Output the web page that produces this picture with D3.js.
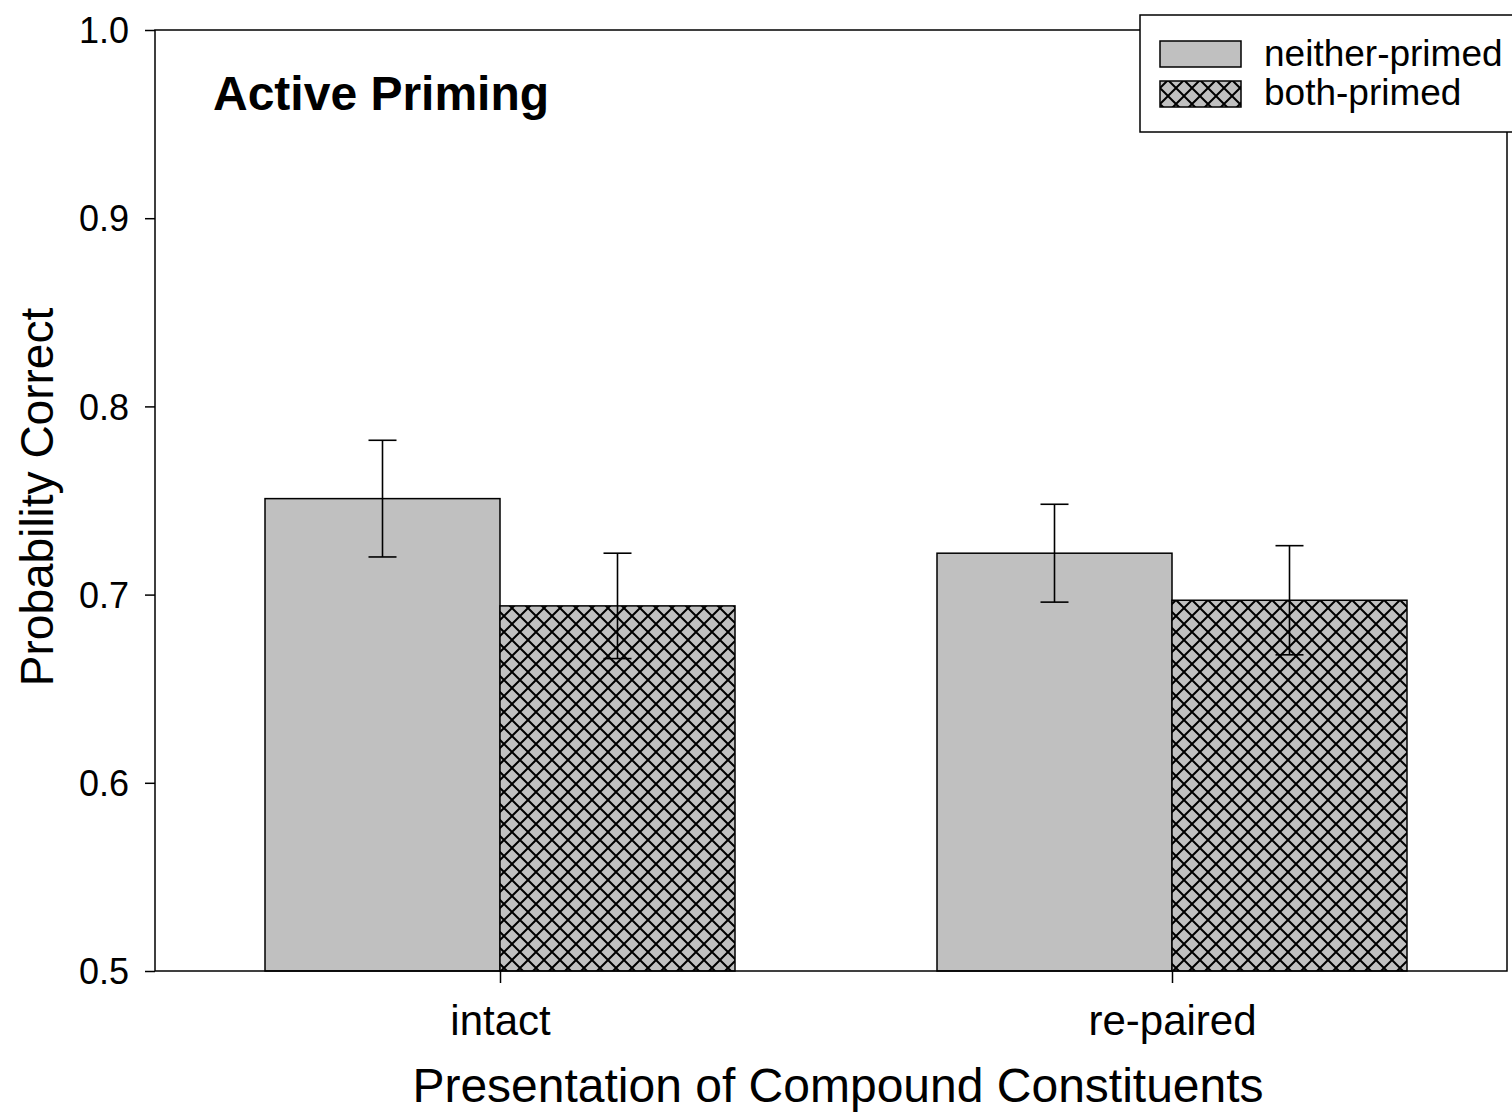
<!DOCTYPE html>
<html><head><meta charset="utf-8">
<script src="https://cdn.jsdelivr.net/npm/d3@7"></script>
<style>body{margin:0;background:#fff}svg{display:block}text{font-family:"Liberation Sans",Arial,sans-serif}</style>
</head><body>
<script>
const groups = ["intact", "re-paired"];
const seriesNames = ["neither-primed", "both-primed"];
const neitherValues = [0.751, 0.722];
const bothValues = [0.694, 0.697];
const neitherErr = [0.031, 0.026];
const bothErr = [0.028, 0.029];
const yTicks = [0.5, 0.6, 0.7, 0.8, 0.9, 1.0];

const W = 1512, H = 1117;
const L = 155, R = 1507, T = 30, B = 971;
const FONT = "Liberation Sans, Arial, sans-serif";
const svg = d3.select("body").append("svg").attr("width", W).attr("height", H);

const P = 16;
const defs = svg.append("defs");
const pat = defs.append("pattern").attr("id", "hatch").attr("patternUnits", "userSpaceOnUse")
  .attr("width", P).attr("height", P);
pat.append("rect").attr("width", P).attr("height", P).attr("fill", "#c0c0c0");
pat.append("path").attr("d", `M0,0L${P},${P}M${P},0L0,${P}M-2,${P-2}L2,${P+2}M${P-2},-2L${P+2},2M-2,2L2,-2M${P-2},${P+2}L${P+2},${P-2}`)
  .attr("stroke", "#000").attr("stroke-width", 2);

const y = d3.scaleLinear().domain([0.5, 1.0]).range([B, T]);
const x = d3.scalePoint().domain(groups).range([L + 345, R - 335]);
const sub = d3.scaleBand().domain(seriesNames).range([-235, 235]);

const data = [];
groups.forEach((g, i) => {
  data.push({g, s: seriesNames[0], v: neitherValues[i], e: neitherErr[i]});
  data.push({g, s: seriesNames[1], v: bothValues[i], e: bothErr[i]});
});

svg.selectAll("rect.bar").data(data).join("rect").attr("class", "bar")
  .attr("x", d => x(d.g) + sub(d.s)).attr("width", sub.bandwidth())
  .attr("y", d => y(d.v)).attr("height", d => y(0.5) - y(d.v))
  .attr("fill", d => d.s === seriesNames[0] ? "#c0c0c0" : "url(#hatch)")
  .attr("stroke", "#000").attr("stroke-width", 1.5);

const cx = d => x(d.g) + sub(d.s) + sub.bandwidth() / 2;
const eb = svg.selectAll("g.err").data(data).join("g").attr("class", "err")
  .attr("stroke", "#000").attr("stroke-width", 1.6);
eb.append("line").attr("x1", cx).attr("x2", cx)
  .attr("y1", d => y(d.v + d.e)).attr("y2", d => y(d.v - d.e));
[1, -1].forEach(sgn => {
  eb.append("line").attr("x1", d => cx(d) - 14).attr("x2", d => cx(d) + 14)
    .attr("y1", d => y(d.v + sgn * d.e)).attr("y2", d => y(d.v + sgn * d.e));
});

svg.append("rect").attr("x", L).attr("y", T).attr("width", R - L).attr("height", B - T)
  .attr("fill", "none").attr("stroke", "#000").attr("stroke-width", 1.5);

const yAxis = svg.append("g").attr("transform", `translate(${L},0)`)
  .call(d3.axisLeft(y).tickValues(yTicks).tickFormat(d3.format(".1f")).tickSize(10).tickPadding(16));
yAxis.select(".domain").remove();
yAxis.selectAll("line").attr("stroke-width", 1.5);
yAxis.selectAll("text").attr("font-size", 36).attr("fill", "#000").attr("font-family", FONT).attr("dy", "0.35em");

const xAxis = svg.append("g").attr("transform", `translate(0,${B})`)
  .call(d3.axisBottom(x).tickSize(12).tickPadding(22));
xAxis.select(".domain").remove();
xAxis.selectAll("line").attr("stroke-width", 1.5);
xAxis.selectAll("text").attr("font-size", 42).attr("fill", "#000").attr("font-family", FONT)
  .attr("dy", null).attr("y", 64);

svg.append("text").attr("x", 213).attr("y", 110).attr("font-size", 48).attr("font-weight", "bold").text("Active Priming");
svg.append("text").attr("transform", `translate(53,497) rotate(-90)`)
  .attr("text-anchor", "middle").attr("font-size", 46).text("Probability Correct");
svg.append("text").attr("x", 838).attr("y", 1102).attr("text-anchor", "middle").attr("font-size", 48)
  .text("Presentation of Compound Constituents");

const lg = svg.append("g");
lg.append("rect").attr("x", 1140).attr("y", 15).attr("width", 400).attr("height", 117)
  .attr("fill", "#fff").attr("stroke", "#000").attr("stroke-width", 1.5);
seriesNames.forEach((s, i) => {
  lg.append("rect").attr("x", 1160).attr("y", 41 + i * 40).attr("width", 81).attr("height", 26)
    .attr("fill", i === 0 ? "#c0c0c0" : "url(#hatch)").attr("stroke", "#000").attr("stroke-width", 1.5);
  lg.append("text").attr("x", 1264).attr("y", 66 + i * 39).attr("font-size", 37).text(s);
});
</script>
</body></html>
